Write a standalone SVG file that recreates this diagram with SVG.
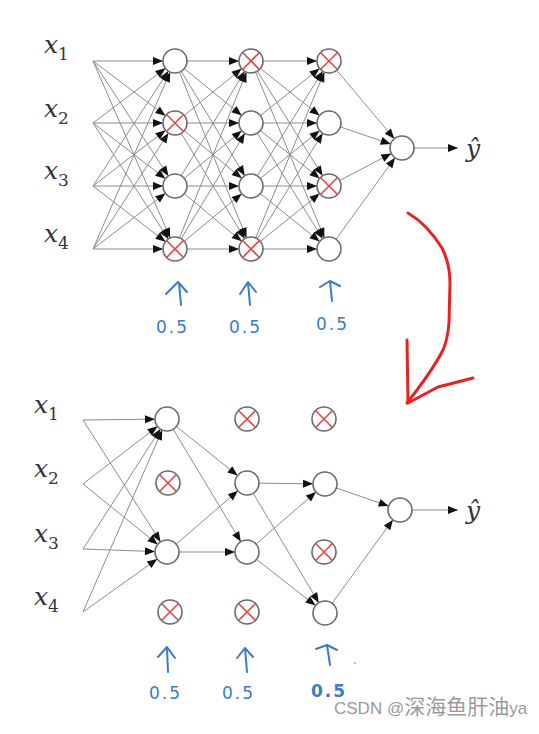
<svg xmlns="http://www.w3.org/2000/svg" width="539" height="734" viewBox="0 0 539 734">
<style>
.edge{stroke:#8c8c8c;stroke-width:1;fill:none}
.node{fill:#fff;stroke:#6a6a6a;stroke-width:1.6}
.x{stroke:#e04848;stroke-width:1.6}
.lab{font-family:"DejaVu Serif",serif;font-style:italic;font-size:25px;fill:#333}
.sub{font-style:normal;font-size:17px}
.blue{stroke:#3a7cc4;stroke-width:2;fill:none;stroke-linecap:round;stroke-linejoin:round}
.bt{font-family:"DejaVu Sans",sans-serif;font-size:17px;fill:#3a7cc4;letter-spacing:2px}
</style>
<defs>
<marker id="ah" markerUnits="userSpaceOnUse" markerWidth="10" markerHeight="8" viewBox="0 0 10 8" refX="22" refY="4" orient="auto" overflow="visible"><path d="M0,0 L10,4 L0,8 z" fill="#111"/></marker>
<marker id="ao" markerUnits="userSpaceOnUse" markerWidth="10" markerHeight="8" viewBox="0 0 10 8" refX="10" refY="4" orient="auto" overflow="visible"><path d="M0,0 L10,4 L0,8 z" fill="#111"/></marker>
</defs>
<rect width="539" height="734" fill="#fff"/>
<g id="connectors" class="edge" marker-end="url(#ah)">
<line x1="93" y1="61" x2="175" y2="61"/><line x1="93" y1="61" x2="175" y2="123"/><line x1="93" y1="61" x2="175" y2="186"/><line x1="93" y1="61" x2="175" y2="249"/>
<line x1="93" y1="123" x2="175" y2="61"/><line x1="93" y1="123" x2="175" y2="123"/><line x1="93" y1="123" x2="175" y2="186"/><line x1="93" y1="123" x2="175" y2="249"/>
<line x1="93" y1="186" x2="175" y2="61"/><line x1="93" y1="186" x2="175" y2="123"/><line x1="93" y1="186" x2="175" y2="186"/><line x1="93" y1="186" x2="175" y2="249"/>
<line x1="93" y1="249" x2="175" y2="61"/><line x1="93" y1="249" x2="175" y2="123"/><line x1="93" y1="249" x2="175" y2="186"/><line x1="93" y1="249" x2="175" y2="249"/>
<line x1="175" y1="61" x2="251" y2="61"/><line x1="175" y1="61" x2="251" y2="123"/><line x1="175" y1="61" x2="251" y2="186"/><line x1="175" y1="61" x2="251" y2="249"/>
<line x1="175" y1="123" x2="251" y2="61"/><line x1="175" y1="123" x2="251" y2="123"/><line x1="175" y1="123" x2="251" y2="186"/><line x1="175" y1="123" x2="251" y2="249"/>
<line x1="175" y1="186" x2="251" y2="61"/><line x1="175" y1="186" x2="251" y2="123"/><line x1="175" y1="186" x2="251" y2="186"/><line x1="175" y1="186" x2="251" y2="249"/>
<line x1="175" y1="249" x2="251" y2="61"/><line x1="175" y1="249" x2="251" y2="123"/><line x1="175" y1="249" x2="251" y2="186"/><line x1="175" y1="249" x2="251" y2="249"/>
<line x1="251" y1="61" x2="329" y2="61"/><line x1="251" y1="61" x2="329" y2="123"/><line x1="251" y1="61" x2="329" y2="186"/><line x1="251" y1="61" x2="329" y2="249"/>
<line x1="251" y1="123" x2="329" y2="61"/><line x1="251" y1="123" x2="329" y2="123"/><line x1="251" y1="123" x2="329" y2="186"/><line x1="251" y1="123" x2="329" y2="249"/>
<line x1="251" y1="186" x2="329" y2="61"/><line x1="251" y1="186" x2="329" y2="123"/><line x1="251" y1="186" x2="329" y2="186"/><line x1="251" y1="186" x2="329" y2="249"/>
<line x1="251" y1="249" x2="329" y2="61"/><line x1="251" y1="249" x2="329" y2="123"/><line x1="251" y1="249" x2="329" y2="186"/><line x1="251" y1="249" x2="329" y2="249"/>
<line x1="329" y1="61" x2="402" y2="148"/><line x1="329" y1="123" x2="402" y2="148"/><line x1="329" y1="186" x2="402" y2="148"/><line x1="329" y1="249" x2="402" y2="148"/>
<line x1="414" y1="148" x2="458" y2="148" marker-end="url(#ao)"/>
<line x1="83" y1="420" x2="167" y2="419"/><line x1="83" y1="420" x2="167" y2="552"/>
<line x1="83" y1="484" x2="167" y2="419"/><line x1="83" y1="484" x2="167" y2="552"/>
<line x1="83" y1="549" x2="167" y2="419"/><line x1="83" y1="549" x2="167" y2="552"/>
<line x1="83" y1="612" x2="167" y2="419"/><line x1="83" y1="612" x2="167" y2="552"/>
<line x1="167" y1="419" x2="247" y2="483"/><line x1="167" y1="419" x2="247" y2="552"/>
<line x1="167" y1="552" x2="247" y2="483"/><line x1="167" y1="552" x2="247" y2="552"/>
<line x1="247" y1="483" x2="325" y2="484"/><line x1="247" y1="483" x2="325" y2="613"/>
<line x1="247" y1="552" x2="325" y2="484"/><line x1="247" y1="552" x2="325" y2="613"/>
<line x1="325" y1="484" x2="400" y2="510"/><line x1="325" y1="613" x2="400" y2="510"/>
<line x1="412" y1="510" x2="458" y2="510" marker-end="url(#ao)"/>
</g>
<g id="t-l1-1"><circle class="node" cx="175" cy="61" r="12"/></g>
<g id="t-l1-2"><circle class="node" cx="175" cy="123" r="12"/><path class="x" d="M166.5,114.5 L183.5,131.5 M183.5,114.5 L166.5,131.5"/></g>
<g id="t-l1-3"><circle class="node" cx="175" cy="186" r="12"/></g>
<g id="t-l1-4"><circle class="node" cx="175" cy="249" r="12"/><path class="x" d="M166.5,240.5 L183.5,257.5 M183.5,240.5 L166.5,257.5"/></g>
<g id="t-l2-1"><circle class="node" cx="251" cy="61" r="12"/><path class="x" d="M242.5,52.5 L259.5,69.5 M259.5,52.5 L242.5,69.5"/></g>
<g id="t-l2-2"><circle class="node" cx="251" cy="123" r="12"/></g>
<g id="t-l2-3"><circle class="node" cx="251" cy="186" r="12"/></g>
<g id="t-l2-4"><circle class="node" cx="251" cy="249" r="12"/><path class="x" d="M242.5,240.5 L259.5,257.5 M259.5,240.5 L242.5,257.5"/></g>
<g id="t-l3-1"><circle class="node" cx="329" cy="61" r="12"/><path class="x" d="M320.5,52.5 L337.5,69.5 M337.5,52.5 L320.5,69.5"/></g>
<g id="t-l3-2"><circle class="node" cx="329" cy="123" r="12"/></g>
<g id="t-l3-3"><circle class="node" cx="329" cy="186" r="12"/><path class="x" d="M320.5,177.5 L337.5,194.5 M337.5,177.5 L320.5,194.5"/></g>
<g id="t-l3-4"><circle class="node" cx="329" cy="249" r="12"/></g>
<g id="t-out"><circle class="node" cx="402" cy="148" r="12"/></g>
<g id="b-l1-1"><circle class="node" cx="167" cy="419" r="12"/></g>
<g id="b-l1-2"><circle class="node" cx="168" cy="483" r="12"/><path class="x" d="M159.5,474.5 L176.5,491.5 M176.5,474.5 L159.5,491.5"/></g>
<g id="b-l1-3"><circle class="node" cx="167" cy="552" r="12"/></g>
<g id="b-l1-4"><circle class="node" cx="170" cy="612" r="12"/><path class="x" d="M161.5,603.5 L178.5,620.5 M178.5,603.5 L161.5,620.5"/></g>
<g id="b-l2-1"><circle class="node" cx="247" cy="419" r="12"/><path class="x" d="M238.5,410.5 L255.5,427.5 M255.5,410.5 L238.5,427.5"/></g>
<g id="b-l2-2"><circle class="node" cx="247" cy="483" r="12"/></g>
<g id="b-l2-3"><circle class="node" cx="247" cy="552" r="12"/></g>
<g id="b-l2-4"><circle class="node" cx="247" cy="612" r="12"/><path class="x" d="M238.5,603.5 L255.5,620.5 M255.5,603.5 L238.5,620.5"/></g>
<g id="b-l3-1"><circle class="node" cx="324" cy="419" r="12"/><path class="x" d="M315.5,410.5 L332.5,427.5 M332.5,410.5 L315.5,427.5"/></g>
<g id="b-l3-2"><circle class="node" cx="325" cy="484" r="12"/></g>
<g id="b-l3-3"><circle class="node" cx="324" cy="552" r="12"/><path class="x" d="M315.5,543.5 L332.5,560.5 M332.5,543.5 L315.5,560.5"/></g>
<g id="b-l3-4"><circle class="node" cx="325" cy="613" r="12"/></g>
<g id="b-out"><circle class="node" cx="400" cy="510" r="12"/></g>
<g id="labels">
<text class="lab" x="44" y="53">x<tspan class="sub" dy="7">1</tspan></text>
<text class="lab" x="44" y="117">x<tspan class="sub" dy="7">2</tspan></text>
<text class="lab" x="44" y="179">x<tspan class="sub" dy="7">3</tspan></text>
<text class="lab" x="44" y="242">x<tspan class="sub" dy="7">4</tspan></text>
<text class="lab" x="466" y="157">ŷ</text>
<text class="lab" x="34" y="413">x<tspan class="sub" dy="7">1</tspan></text>
<text class="lab" x="34" y="477">x<tspan class="sub" dy="7">2</tspan></text>
<text class="lab" x="34" y="542">x<tspan class="sub" dy="7">3</tspan></text>
<text class="lab" x="34" y="605">x<tspan class="sub" dy="7">4</tspan></text>
<text class="lab" x="466" y="519">ŷ</text>
</g>
<g id="keep-prob">
<path class="blue" d="M179,283 L181,305 M166,294 L178,282 L187,292"/>
<path class="blue" d="M248,283 L250,305 M240,294 L248,282 L256,292"/>
<path class="blue" d="M320,287 L330,281 L340,286 M330,281 L332,301"/>
<text class="bt" x="156" y="333">0.5</text>
<text class="bt" x="229" y="333">0.5</text>
<text class="bt" x="316" y="330">0.5</text>
<path class="blue" d="M167,648 L168,672 M158,657 L167,647 L175,658"/>
<path class="blue" d="M245,648 L247,672 M237,658 L245,648 L253,657"/>
<path class="blue" d="M316,649 L327,645 L337,650 M327,645 L330,665"/>
<circle cx="355" cy="663" r="1" fill="#9ab"/>
<text class="bt" x="149" y="699">0.5</text>
<text class="bt" x="222" y="699">0.5</text>
<text class="bt" x="311" y="697" font-weight="bold">0.5</text>
</g>
<g id="transition" fill="none" stroke="#e62323" stroke-width="3" stroke-linecap="round" stroke-linejoin="round">
<path d="M408,213 C420,220 432,232 442,248 C447,258 450,270 450,283 L449,323 C448,335 446,343 443,350 C437,362 425,380 407,403"/>
<path d="M407,340 L408,403 L438,387 L473,378"/>
</g>
<text x="334" y="714" font-family="Liberation Sans,Noto Sans CJK SC,sans-serif" font-size="17" fill="#9a9a9a">CSDN @<tspan font-size="21" font-family="Noto Sans CJK SC,sans-serif">深海鱼肝油</tspan>ya</text>
</svg>
